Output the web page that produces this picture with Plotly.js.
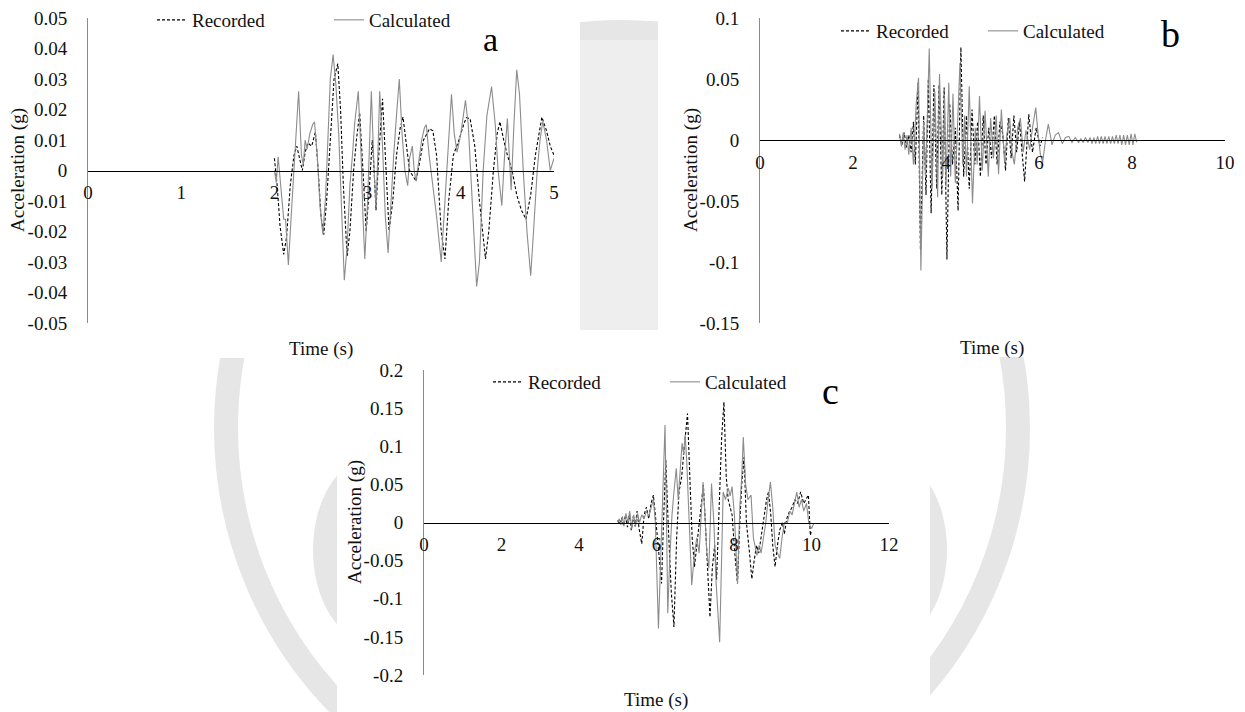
<!DOCTYPE html>
<html><head><meta charset="utf-8">
<script src="https://cdn.plot.ly/plotly-3.0.1.min.js"></script>
<style>html,body{margin:0;padding:0;background:#fff}#chart{width:1245px;height:712px}</style>
</head><body><div id="chart"></div>
<script>
// ---------- Panel a ----------
const aRecT = [2.00,2.03,2.06,2.10,2.13,2.17,2.21,2.24,2.27,2.30,2.33,2.36,2.40,2.44,2.47,2.50,2.53,2.56,2.60,2.64,2.68,2.71,2.74,2.78,2.81,2.85,2.88,2.915,2.95,2.985,3.02,3.05,3.07,3.09,3.12,3.16,3.19,3.23,3.27,3.31,3.35,3.38,3.41,3.45,3.49,3.52,3.56,3.60,3.665,3.70,3.74,3.79,3.83,3.87,3.92,3.98,4.03,4.06,4.10,4.15,4.20,4.265,4.30,4.35,4.39,4.42,4.46,4.50,4.55,4.60,4.65,4.70,4.75,4.80,4.87,4.92,4.96,5.00];
const aRecV = [0.004,-0.005,-0.018,-0.0275,-0.022,-0.005,0.005,0.008,0.004,0.000,0.006,0.009,0.008,0.0126,0.000,-0.015,-0.021,-0.010,0.010,0.030,0.035,0.020,-0.005,-0.028,-0.020,0.000,0.010,0.019,0.000,-0.020,-0.005,0.010,0.000,-0.013,0.005,0.0235,0.005,-0.0197,-0.010,0.005,0.014,0.0175,0.010,0.000,-0.002,-0.0035,0.003,0.010,0.0137,0.013,0.005,-0.020,-0.029,-0.010,0.005,0.010,0.015,0.0173,0.017,0.008,-0.010,-0.029,-0.020,0.000,0.012,0.016,0.010,0.005,0.000,-0.008,-0.013,-0.016,-0.008,0.005,0.0175,0.013,0.008,0.005];
const aCalT = [2.00,2.02,2.04,2.07,2.10,2.12,2.15,2.18,2.22,2.26,2.29,2.31,2.33,2.35,2.38,2.41,2.43,2.46,2.49,2.52,2.55,2.58,2.60,2.63,2.66,2.69,2.72,2.75,2.78,2.81,2.84,2.86,2.90,2.93,2.95,2.97,3.00,3.04,3.07,3.09,3.11,3.13,3.16,3.19,3.22,3.25,3.28,3.31,3.34,3.37,3.40,3.43,3.45,3.48,3.50,3.52,3.55,3.58,3.61,3.63,3.66,3.69,3.74,3.79,3.82,3.86,3.90,3.93,3.96,4.00,4.05,4.08,4.12,4.17,4.20,4.24,4.28,4.33,4.37,4.40,4.44,4.47,4.50,4.52,4.54,4.57,4.60,4.63,4.67,4.71,4.75,4.78,4.82,4.85,4.88,4.92,4.96,5.00];
const aCalV = [0.000,-0.004,0.0045,-0.005,-0.016,-0.016,-0.031,-0.015,0.005,0.026,0.005,0.002,0.010,0.007,0.012,0.015,0.016,0.005,-0.012,-0.021,-0.008,0.015,0.030,0.038,0.028,0.012,-0.015,-0.036,-0.025,-0.005,0.006,0.015,0.026,0.005,-0.015,-0.029,-0.010,0.026,0.000,-0.012,0.005,0.026,0.008,-0.015,-0.027,-0.010,0.005,0.018,0.030,0.012,0.000,-0.005,0.004,0.008,0.000,-0.0035,0.004,0.010,0.014,0.015,0.005,-0.002,-0.015,-0.030,-0.015,0.008,0.025,0.012,0.006,0.012,0.023,0.015,-0.010,-0.038,-0.030,0.000,0.018,0.0275,0.015,0.000,-0.0115,0.005,0.017,0.005,-0.0065,0.015,0.033,0.025,0.000,-0.020,-0.0345,-0.020,0.000,0.010,0.016,0.010,0.000,0.004];
const aXTicks = [0,1,2,3,4,5];
const aYTicks = [0.05,0.04,0.03,0.02,0.01,0,-0.01,-0.02,-0.03,-0.04,-0.05];
const aYText  = ['0.05','0.04','0.03','0.02','0.01','0','-0.01','-0.02','-0.03','-0.04','-0.05'];

// ---------- Panel b ----------
const bRecT = [3.00,3.05,3.10,3.15,3.20,3.25,3.30,3.34,3.40,3.45,3.52,3.57,3.62,3.68,3.74,3.80,3.85,3.91,3.96,4.02,4.08,4.14,4.20,4.26,4.32,4.38,4.44,4.50,4.56,4.62,4.68,4.74,4.80,4.86,4.92,4.98,5.04,5.10,5.16,5.22,5.28,5.34,5.40,5.46,5.52,5.58,5.69,5.78,5.86,5.94,6.02,6.08];
const bRecV = [0.004,-0.004,0.006,-0.006,0.004,-0.010,0.015,-0.020,0.047,-0.090,0.020,-0.045,0.050,-0.060,0.045,-0.040,0.045,-0.045,0.043,-0.098,0.030,-0.020,0.010,-0.058,0.076,-0.030,0.020,-0.040,0.025,-0.020,0.015,-0.030,0.020,-0.020,0.010,-0.015,0.020,-0.020,0.015,0.005,-0.025,0.018,-0.015,0.020,-0.010,0.015,-0.034,0.021,-0.010,0.010,-0.005,0.002];
const bCalT = [3.00,3.04,3.08,3.12,3.16,3.20,3.25,3.30,3.36,3.41,3.46,3.52,3.56,3.64,3.70,3.76,3.82,3.86,3.93,3.97,4.00,4.06,4.10,4.15,4.20,4.30,4.36,4.40,4.44,4.50,4.57,4.63,4.67,4.72,4.78,4.84,4.91,4.96,5.02,5.08,5.13,5.19,5.26,5.31,5.37,5.42,5.47,5.54,5.60,5.66,5.72,5.80,5.86,5.93,5.98,6.03,6.08,6.14,6.20,6.28,6.35,6.42,6.50,6.57,6.64,6.71,6.78,6.85,6.90,6.95,7.00,7.05,7.10,7.14,7.18,7.22,7.26,7.30,7.34,7.38,7.42,7.46,7.50,7.54,7.58,7.62,7.66,7.70,7.74,7.78,7.82,7.86,7.90,7.94,7.98,8.02,8.06,8.10];
const bCalV = [0.005,-0.005,0.006,-0.008,0.004,-0.012,0.010,-0.020,0.030,0.051,-0.107,0.015,-0.030,0.075,-0.040,0.040,-0.047,0.054,-0.030,0.035,-0.038,0.047,-0.030,0.038,-0.035,0.063,-0.020,0.020,-0.030,0.044,-0.052,0.010,-0.020,0.036,-0.025,0.024,-0.030,0.018,-0.015,0.020,-0.028,0.025,-0.018,0.005,0.018,-0.010,-0.020,0.010,0.018,-0.010,0.008,-0.008,0.010,0.0265,0.005,-0.012,-0.018,0.000,0.013,-0.004,0.004,0.006,-0.003,0.002,0.003,-0.002,0.002,-0.002,0.001,-0.002,0.002,-0.002,0.002,-0.003,0.002,-0.003,0.003,-0.003,0.003,-0.003,0.003,-0.003,0.003,-0.003,0.003,-0.003,0.004,-0.003,0.004,-0.004,0.004,-0.004,0.004,-0.004,0.005,-0.004,0.005,-0.002];
const bXTicks = [0,2,4,6,8,10];
const bYTicks = [0.1,0.05,0,-0.05,-0.1,-0.15];
const bYText  = ['0.1','0.05','0','-0.05','-0.1','-0.15'];

// ---------- Panel c ----------
const cRecT = [5.00,5.05,5.10,5.15,5.20,5.25,5.30,5.35,5.40,5.45,5.50,5.55,5.62,5.68,5.74,5.80,5.86,5.92,5.97,6.05,6.13,6.18,6.24,6.30,6.38,6.45,6.52,6.58,6.65,6.72,6.80,6.86,6.92,6.98,7.04,7.10,7.16,7.21,7.27,7.33,7.38,7.44,7.50,7.55,7.62,7.68,7.74,7.80,7.85,7.90,7.95,8.02,8.09,8.15,8.20,8.26,8.32,8.40,8.46,8.52,8.58,8.64,8.70,8.78,8.84,8.89,8.95,9.00,9.06,9.12,9.18,9.25,9.30,9.36,9.43,9.50,9.57,9.64,9.72,9.80,9.86,9.92,9.97,10.00];
const cRecV = [0.003,-0.002,0.006,-0.004,0.010,-0.006,0.012,-0.010,0.008,-0.005,0.015,-0.008,-0.028,0.010,0.020,0.005,0.025,0.036,0.010,-0.040,-0.080,0.000,0.082,0.000,-0.090,-0.137,-0.020,0.040,0.060,0.100,0.143,0.060,-0.020,-0.058,-0.030,0.000,0.030,0.049,-0.010,-0.080,-0.124,-0.060,-0.030,-0.075,0.030,0.110,0.158,0.060,0.030,0.020,0.010,-0.040,-0.080,0.000,0.050,0.086,0.000,-0.040,-0.074,-0.050,-0.030,-0.040,-0.020,0.010,0.030,0.040,0.010,-0.030,-0.058,-0.030,-0.010,0.000,-0.015,0.005,0.014,0.020,0.030,0.025,0.040,0.025,0.030,0.036,-0.017,-0.010];
const cCalT = [5.00,5.04,5.08,5.12,5.16,5.21,5.26,5.31,5.36,5.41,5.46,5.51,5.56,5.62,5.68,5.74,5.80,5.86,5.92,5.97,6.01,6.05,6.10,6.15,6.22,6.26,6.29,6.34,6.40,6.45,6.51,6.56,6.60,6.66,6.70,6.74,6.78,6.84,6.91,6.98,7.04,7.10,7.15,7.20,7.25,7.30,7.35,7.42,7.48,7.54,7.63,7.68,7.72,7.78,7.85,7.90,7.95,8.01,8.09,8.15,8.20,8.24,8.30,8.36,8.44,8.50,8.56,8.59,8.65,8.70,8.76,8.82,8.88,8.94,9.00,9.06,9.12,9.18,9.24,9.30,9.38,9.44,9.50,9.56,9.62,9.68,9.74,9.80,9.87,9.93,10.00,10.06];
const cCalV = [0.000,0.005,-0.003,0.008,-0.005,0.012,0.000,0.015,-0.008,0.010,-0.004,0.012,0.000,0.010,0.005,0.015,0.008,0.020,0.030,0.000,-0.060,-0.139,-0.060,0.020,0.128,0.000,-0.119,-0.050,0.010,0.040,0.071,0.030,0.060,0.104,0.090,0.115,0.080,0.000,-0.082,-0.040,-0.020,-0.040,0.000,0.053,0.010,-0.040,-0.060,0.051,0.000,-0.080,-0.157,-0.040,0.040,0.030,0.045,0.035,0.047,0.010,-0.080,0.020,0.060,0.112,0.050,0.030,0.036,-0.020,-0.035,-0.043,-0.030,-0.040,-0.020,0.000,0.030,0.053,0.020,-0.030,-0.040,-0.047,-0.020,0.000,0.000,0.015,0.010,0.025,0.040,0.020,0.030,0.015,0.025,0.000,-0.008,-0.001];
const cXTicks = [0,2,4,6,8,10,12];
const cYTicks = [0.2,0.15,0.1,0.05,0,-0.05,-0.1,-0.15,-0.2];
const cYText  = ['0.2','0.15','0.1','0.05','0','-0.05','-0.1','-0.15','-0.2'];

const seriesNames = ['Recorded','Calculated'];
const panelLetters = ['a','b','c'];
const xTitle = 'Time (s)';
const yTitle = 'Acceleration (g)';

// ---------- layout helpers ----------
const W = 1245, H = 712;
const px = v => v / W, py = v => 1 - v / H;
const FONT = "'Liberation Serif', 'Times New Roman', serif";
const TXT = '#111';
const zeroPos = (dom, rng) => dom[0] + (0 - rng[0]) / (rng[1] - rng[0]) * (dom[1] - dom[0]);

const panels = [
  {xd:[px(88),px(554)],  yd:[py(323),py(18)],  xr:[0,5],  yr:[-0.05,0.05], xt:aXTicks, yt:aYTicks, ytx:aYText},
  {xd:[px(760),px(1225)],yd:[py(323),py(18)],  xr:[0,10], yr:[-0.15,0.1],  xt:bXTicks, yt:bYTicks, ytx:bYText},
  {xd:[px(424),px(889)], yd:[py(675),py(370)], xr:[0,12], yr:[-0.2,0.2],   xt:cXTicks, yt:cYTicks, ytx:cYText}
];
const dataSets = [[aRecT,aRecV,aCalT,aCalV],[bRecT,bRecV,bCalT,bCalV],[cRecT,cRecV,cCalT,cCalV]];

const traces = [];
const layout = {
  width: W, height: H, margin:{l:0,r:0,t:0,b:0},
  paper_bgcolor:'#ffffff', plot_bgcolor:'rgba(0,0,0,0)',
  font:{family:FONT, size:19, color:TXT},
  showlegend:true, shapes:[], annotations:[]
};

// faint watermark behind the panels
const WM = '#e6e6e6';
layout.shapes.push({type:'circle', xref:'paper', yref:'paper', layer:'below',
  x0:px(622-396), x1:px(622+396), y0:py(428+396), y1:py(428-396),
  line:{color:WM, width:24}, fillcolor:'rgba(0,0,0,0)'});
layout.shapes.push({type:'circle', xref:'paper', yref:'paper', layer:'below',
  x0:px(313), x1:px(430), y0:py(642), y1:py(458), line:{width:0}, fillcolor:WM});
layout.shapes.push({type:'circle', xref:'paper', yref:'paper', layer:'below',
  x0:px(830), x1:px(947), y0:py(642), y1:py(458), line:{width:0}, fillcolor:WM});
layout.shapes.push({type:'rect', xref:'paper', yref:'paper', layer:'below',
  x0:px(580), x1:px(658), y0:py(330), y1:py(40), line:{width:0}, fillcolor:'#eeeeee'});
const panelRects = [[0,580,0,358],[658,1245,7,357],[337,930,358,712]];
panelRects.forEach(r => layout.shapes.push({type:'rect', xref:'paper', yref:'paper', layer:'below',
  x0:px(r[0]), x1:px(r[1]), y0:py(r[3]), y1:py(r[2]), line:{width:0}, fillcolor:'#ffffff'}));

const legendPos = [[152,1,132],[836,12,102],[488,363,132]];
const letterPos = [[490,39,34],[1170,34,38],[831,391,38]];
const xTitlePos = [[321,349],[992,348],[656,700]];
const yTitlePos = [[18,170],[691,170],[355,522]];

panels.forEach((p, i) => {
  const sfx = i === 0 ? '' : String(i + 1);
  const lg = 'legend' + sfx;
  const [rt, rv, ct, cv] = dataSets[i];
  traces.push({x:rt, y:rv, xaxis:'x'+sfx, yaxis:'y'+sfx, name:seriesNames[0], legend:lg,
    type:'scatter', mode:'lines', line:{color:'#000000', width:1.1, dash:'3px,2px'}, hoverinfo:'skip'});
  traces.push({x:ct, y:cv, xaxis:'x'+sfx, yaxis:'y'+sfx, name:seriesNames[1], legend:lg,
    type:'scatter', mode:'lines', line:{color:'#8c8c8c', width:1.1}, hoverinfo:'skip'});

  layout['xaxis'+sfx] = {domain:p.xd, range:p.xr, anchor:'free', position:zeroPos(p.yd, p.yr),
    showline:true, linecolor:'#000', linewidth:1, showgrid:false, zeroline:false, ticks:'',
    tickmode:'array', tickvals:p.xt, ticktext:p.xt.map(String), tickfont:{family:FONT,size:19,color:TXT},
    ticklabelstandoff:5, fixedrange:true};
  layout['yaxis'+sfx] = {domain:p.yd, range:p.yr, anchor:'x'+sfx,
    showline:true, linecolor:'#8a8a8a', linewidth:1, showgrid:false, zeroline:false, ticks:'',
    tickmode:'array', tickvals:p.yt, ticktext:p.ytx, tickfont:{family:FONT,size:19,color:TXT},
    ticklabelstandoff:16, fixedrange:true};

  const L = legendPos[i];
  layout[lg] = {x:px(L[0]), xanchor:'left', y:py(L[1]), yanchor:'top', orientation:'h',
    bgcolor:'rgba(0,0,0,0)', borderwidth:0, font:{family:FONT,size:19,color:TXT},
    itemwidth:30, entrywidth:L[2], entrywidthmode:'pixels'};

  const lp = letterPos[i];
  layout.annotations.push({text:panelLetters[i], xref:'paper', yref:'paper', x:px(lp[0]), y:py(lp[1]),
    xanchor:'center', yanchor:'middle', showarrow:false, font:{family:FONT,size:lp[2],color:'#000'}});
  const xt = xTitlePos[i];
  layout.annotations.push({text:xTitle, xref:'paper', yref:'paper', x:px(xt[0]), y:py(xt[1]),
    xanchor:'center', yanchor:'middle', showarrow:false, font:{family:FONT,size:19,color:TXT}});
  const yt = yTitlePos[i];
  layout.annotations.push({text:yTitle, xref:'paper', yref:'paper', x:px(yt[0]), y:py(yt[1]),
    xanchor:'center', yanchor:'middle', textangle:-90, showarrow:false, font:{family:FONT,size:19,color:TXT}});
});

Plotly.newPlot('chart', traces, layout, {staticPlot:true, displayModeBar:false});
</script></body></html>
